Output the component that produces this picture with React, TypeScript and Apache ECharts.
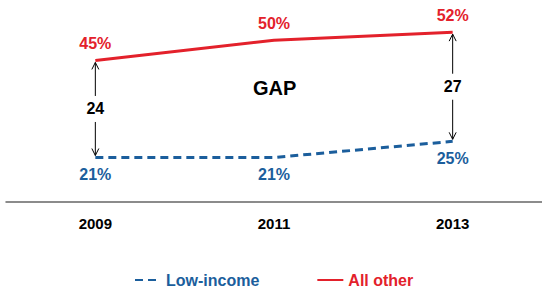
import React, { useEffect, useRef } from "react";
import * as echarts from "echarts";

const years = ["2009", "2011", "2013"];
const lowIncome = [21, 21, 25];
const allOther = [45, 50, 52];
const gapIdx = [0, 2];

const RED = "#e3212b";
const BLUE = "#1b5e9c";
const FONT = "'Liberation Sans', Arial, sans-serif";

const pctLabels = (name: string, values: number[], color: string, dir: number) => ({
  type: "custom",
  name,
  silent: true,
  data: values.map((v, i) => [i, v]),
  renderItem: (params: any, api: any) => {
    const p = api.coord([api.value(0), api.value(1)]);
    return {
      type: "text",
      x: p[0],
      y: p[1] + dir * 9,
      style: {
        text: api.value(1) + "%",
        font: `bold 16px ${FONT}`,
        fill: color,
        align: "center",
        verticalAlign: dir < 0 ? "bottom" : "top",
      },
    };
  },
});

export default function App() {
  const ref = useRef<HTMLDivElement>(null);
  useEffect(() => {
    const chart = echarts.init(ref.current!, null, { renderer: "svg" });
    const gapData = gapIdx.map((i) => [i, allOther[i], lowIncome[i], allOther[i] - lowIncome[i]]);
    chart.setOption({
      animation: false,
      grid: { left: 6, right: -3, top: 20, bottom: 89 },
      xAxis: {
        type: "category",
        data: years,
        boundaryGap: true,
        axisLine: { lineStyle: { color: "#666", width: 1.5 } },
        axisTick: { show: false },
        axisLabel: { color: "#000", fontWeight: "bold", fontSize: 15, fontFamily: FONT, margin: 14 },
      },
      yAxis: { type: "value", min: 10, max: 55, show: false, splitLine: { show: false } },
      legend: {
        bottom: -2,
        left: 129,
        itemWidth: 26,
        itemHeight: 10,
        itemGap: 57,
        itemStyle: { opacity: 0 },
        data: [
          { name: "Low-income", textStyle: { color: BLUE } },
          { name: "All other", textStyle: { color: RED } },
        ],
        textStyle: { fontWeight: "bold", fontSize: 16, fontFamily: FONT },
      },
      graphic: [
        {
          type: "text",
          left: 253,
          top: 78,
          style: { text: "GAP", font: `bold 20px ${FONT}`, fill: "#000" },
        },
      ],
      series: [
        {
          name: "Low-income",
          type: "line",
          data: lowIncome,
          symbol: "none",
          lineStyle: { color: BLUE, width: 3, type: [8, 5] },
          itemStyle: { color: BLUE },
        },
        {
          name: "All other",
          type: "line",
          data: allOther,
          symbol: "none",
          lineStyle: { color: RED, width: 3 },
          itemStyle: { color: RED },
        },
        pctLabels("lowLabels", lowIncome, BLUE, 1),
        pctLabels("otherLabels", allOther, RED, -1),
        {
          type: "custom",
          name: "gap",
          data: gapData,
          silent: true,
          renderItem: (params: any, api: any) => {
            const x = api.value(0);
            const top = api.coord([x, api.value(1)]);
            const bot = api.coord([x, api.value(2)]);
            const cx = top[0];
            const y1 = top[1] + 2;
            const y2 = bot[1] - 2;
            const mid = (y1 + y2) / 2;
            const ls = { stroke: "#000", lineWidth: 1, fill: "none" };
            return {
              type: "group",
              children: [
                { type: "line", shape: { x1: cx, y1: y1, x2: cx, y2: mid - 13 }, style: ls },
                { type: "line", shape: { x1: cx, y1: mid + 13, x2: cx, y2: y2 }, style: ls },
                { type: "polyline", shape: { points: [[cx - 3.5, y1 + 7], [cx, y1], [cx + 3.5, y1 + 7]] }, style: ls },
                { type: "polyline", shape: { points: [[cx - 3.5, y2 - 7], [cx, y2], [cx + 3.5, y2 - 7]] }, style: ls },
                {
                  type: "text",
                  x: cx,
                  y: mid,
                  style: {
                    text: String(api.value(3)),
                    font: `bold 16px ${FONT}`,
                    fill: "#000",
                    align: "center",
                    verticalAlign: "middle",
                  },
                },
              ],
            };
          },
        },
      ],
    });
    return () => chart.dispose();
  }, []);
  return <div ref={ref} style={{ width: 542, height: 291, position: "absolute", left: 0, top: 0 }} />;
}
